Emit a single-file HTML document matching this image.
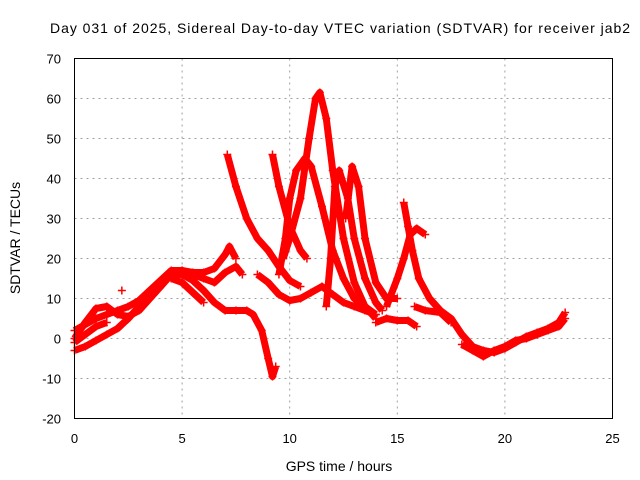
<!DOCTYPE html>
<html><head><meta charset="utf-8"><style>
html,body{margin:0;padding:0;background:#fff}
svg{display:block;font-family:"Liberation Sans",sans-serif}
</style></head><body>
<svg id="chart" width="640" height="480" viewBox="0 0 640 480">
<g id="grid"></g>
<g id="series"></g>
<rect x="74.5" y="58.5" width="538" height="360" fill="none" stroke="#000" stroke-width="1"/>
<g id="ticks" font-size="13" fill="#000"></g>
<text x="340" y="33" text-anchor="middle" font-size="14" textLength="580">Day 031 of 2025, Sidereal Day-to-day VTEC variation (SDTVAR) for receiver jab2</text>
<text x="339" y="471" text-anchor="middle" font-size="14">GPS time / hours</text>
<text transform="translate(20,238) rotate(-90)" text-anchor="middle" font-size="14">SDTVAR / TECUs</text>
</svg>
<script>
const xTicks=[0,5,10,15,20,25];
const yTicks=[-20,-10,0,10,20,30,40,50,60,70];
const track1=[[0,-3],[0.5,-2],[1,-0.5],[1.5,1],[2,2.5],[2.5,5],[3,8],[3.5,11],[4,13],[4.5,16],[5,16],[5.5,14.5],[6,12],[6.5,9],[7,7],[7.5,7],[8,7],[8.3,6],[8.7,2],[9,-5],[9.2,-9.5],[9.35,-7]];
const track2=[[0,0],[0.5,4],[1,7.5],[1.5,8],[2,6],[2.5,5.5],[3,7],[3.5,10],[4,13],[4.5,16.5],[5,17],[5.5,16.5],[6,16.5],[6.5,17.5],[7,21],[7.2,23],[7.5,20]];
const track3=[[0,2],[0.5,3.5],[1,5],[1.5,6],[2,7],[2.5,8],[3,9.5],[3.5,12],[4,14.5],[4.5,17],[5,17],[5.5,16],[6,15],[6.5,14],[7,16.5],[7.5,18],[7.8,16]];
const track4=[[4.5,15],[5,14],[5.5,11.5],[6,9]];
const track5=[[0,-1],[0.5,1],[1,3],[1.5,4]];
const track6=[[7.1,46],[7.5,38],[8,30],[8.5,25],[9,22],[9.5,18],[10,14.5],[10.5,13]];
const track7=[[8.5,16],[9,14],[9.5,11],[10,9.5],[10.5,10],[11,11.5],[11.5,13],[12,11],[12.5,9],[13,8],[13.5,7],[14,6]];
const track8=[[9.2,46],[9.5,38],[10,28],[10.5,22],[10.8,20]];
const track9=[[9.5,16],[9.8,25],[10,35],[10.3,42],[10.7,45],[11,43],[11.5,33],[12,22],[12.5,15],[13,10],[13.5,8],[14,6]];
const track10=[[9.7,20],[10,25],[10.5,35],[10.9,50],[11.2,60],[11.4,61.5],[11.7,55],[12,42],[12.5,25],[13,14],[13.5,8],[14,5]];
const track11=[[11.7,8],[11.9,20],[12.1,38],[12.3,42],[12.7,35],[13,25],[13.5,15],[14,9],[14.3,7]];
const track12=[[12.6,30],[12.9,43],[13.2,38],[13.5,25],[14,14],[14.5,10],[15,10]];
const track13=[[14.5,8],[15,15],[15.3,20],[15.6,26],[15.9,27.5],[16.3,26]];
const track14=[[15.3,34],[15.5,28],[15.7,22],[16,15],[16.5,10],[17,7],[17.5,5],[18,1],[18.5,-2],[19,-3],[19.5,-3.5],[20,-2.5],[20.5,-1],[21,0.5],[21.5,1.5],[22,2.5],[22.5,4],[22.8,6.5]];
const track15=[[15.8,8],[16.3,7],[17,6.5],[17.5,4]];
const track16=[[14,4],[14.5,5],[15,4.5],[15.5,4.5],[15.9,3]];
const track17=[[18,-1.5],[18.5,-3],[19,-4.5],[19.5,-3],[20,-2],[20.5,-0.5],[21,0],[21.5,1],[22,2],[22.5,3],[22.8,5]];
const track18=[[2.2,12]];
const tracks=[track1,track2,track3,track4,track5,track6,track7,track8,track9,track10,track11,track12,track13,track14,track15,track16,track17,track18];

const X0=74.5,X1=612.5,Y0=418.5,Y1=58.5;
function xs(h){return X0+(h-0)/(25-0)*(X1-X0);}
function ys(v){return Y0-(v+20)/(70+20)*(Y0-Y1);}
const NS="http://www.w3.org/2000/svg";
const grid=document.getElementById('grid'),ticks=document.getElementById('ticks'),ser=document.getElementById('series');
xTicks.forEach(t=>{
  const x=xs(t);
  if(t>0&&t<25){const l=document.createElementNS(NS,'line');
  l.setAttribute('x1',x);l.setAttribute('x2',x);l.setAttribute('y1',Y1);l.setAttribute('y2',Y0);
  l.setAttribute('stroke','#a0a0a0');l.setAttribute('stroke-dasharray','2,4');
  
  
  grid.appendChild(l);}
  const tx=document.createElementNS(NS,'text');
  tx.setAttribute('x',x);tx.setAttribute('y',443);tx.setAttribute('text-anchor','middle');
  tx.textContent=t;
  
  
  ticks.appendChild(tx);
});
yTicks.forEach(t=>{
  const y=ys(t);
  if(t>-20&&t<70){const l=document.createElementNS(NS,'line');
  l.setAttribute('x1',X0);l.setAttribute('x2',X1);l.setAttribute('y1',y);l.setAttribute('y2',y);
  l.setAttribute('stroke','#a0a0a0');l.setAttribute('stroke-dasharray','2,4');
  
  
  grid.appendChild(l);}
  const tx=document.createElementNS(NS,'text');
  tx.setAttribute('x',61);tx.setAttribute('y',y+5);tx.setAttribute('text-anchor','end');
  tx.textContent=t;
  
  
  ticks.appendChild(tx);
});
tracks.forEach((tr,i)=>{
  const g=document.createElementNS(NS,'g');
  
  
  const p=document.createElementNS(NS,'polyline');
  p.setAttribute('points',tr.map(d=>xs(d[0])+','+ys(d[1])).join(' '));
  p.setAttribute('fill','none');p.setAttribute('stroke','#ff0000');p.setAttribute('stroke-width','7');
  p.setAttribute('stroke-linejoin','round');
  
  
  g.appendChild(p);
  tr.forEach(d=>{
    const m=document.createElementNS(NS,'path');
    const x=xs(d[0]),y=ys(d[1]);
    m.setAttribute('d',`M${x-4},${y}H${x+4}M${x},${y-4}V${y+4}`);
    m.setAttribute('stroke','#ff0000');m.setAttribute('stroke-width','1.5');
    
    
    g.appendChild(m);
  });
  ser.appendChild(g);
});
</script>
</body></html>
